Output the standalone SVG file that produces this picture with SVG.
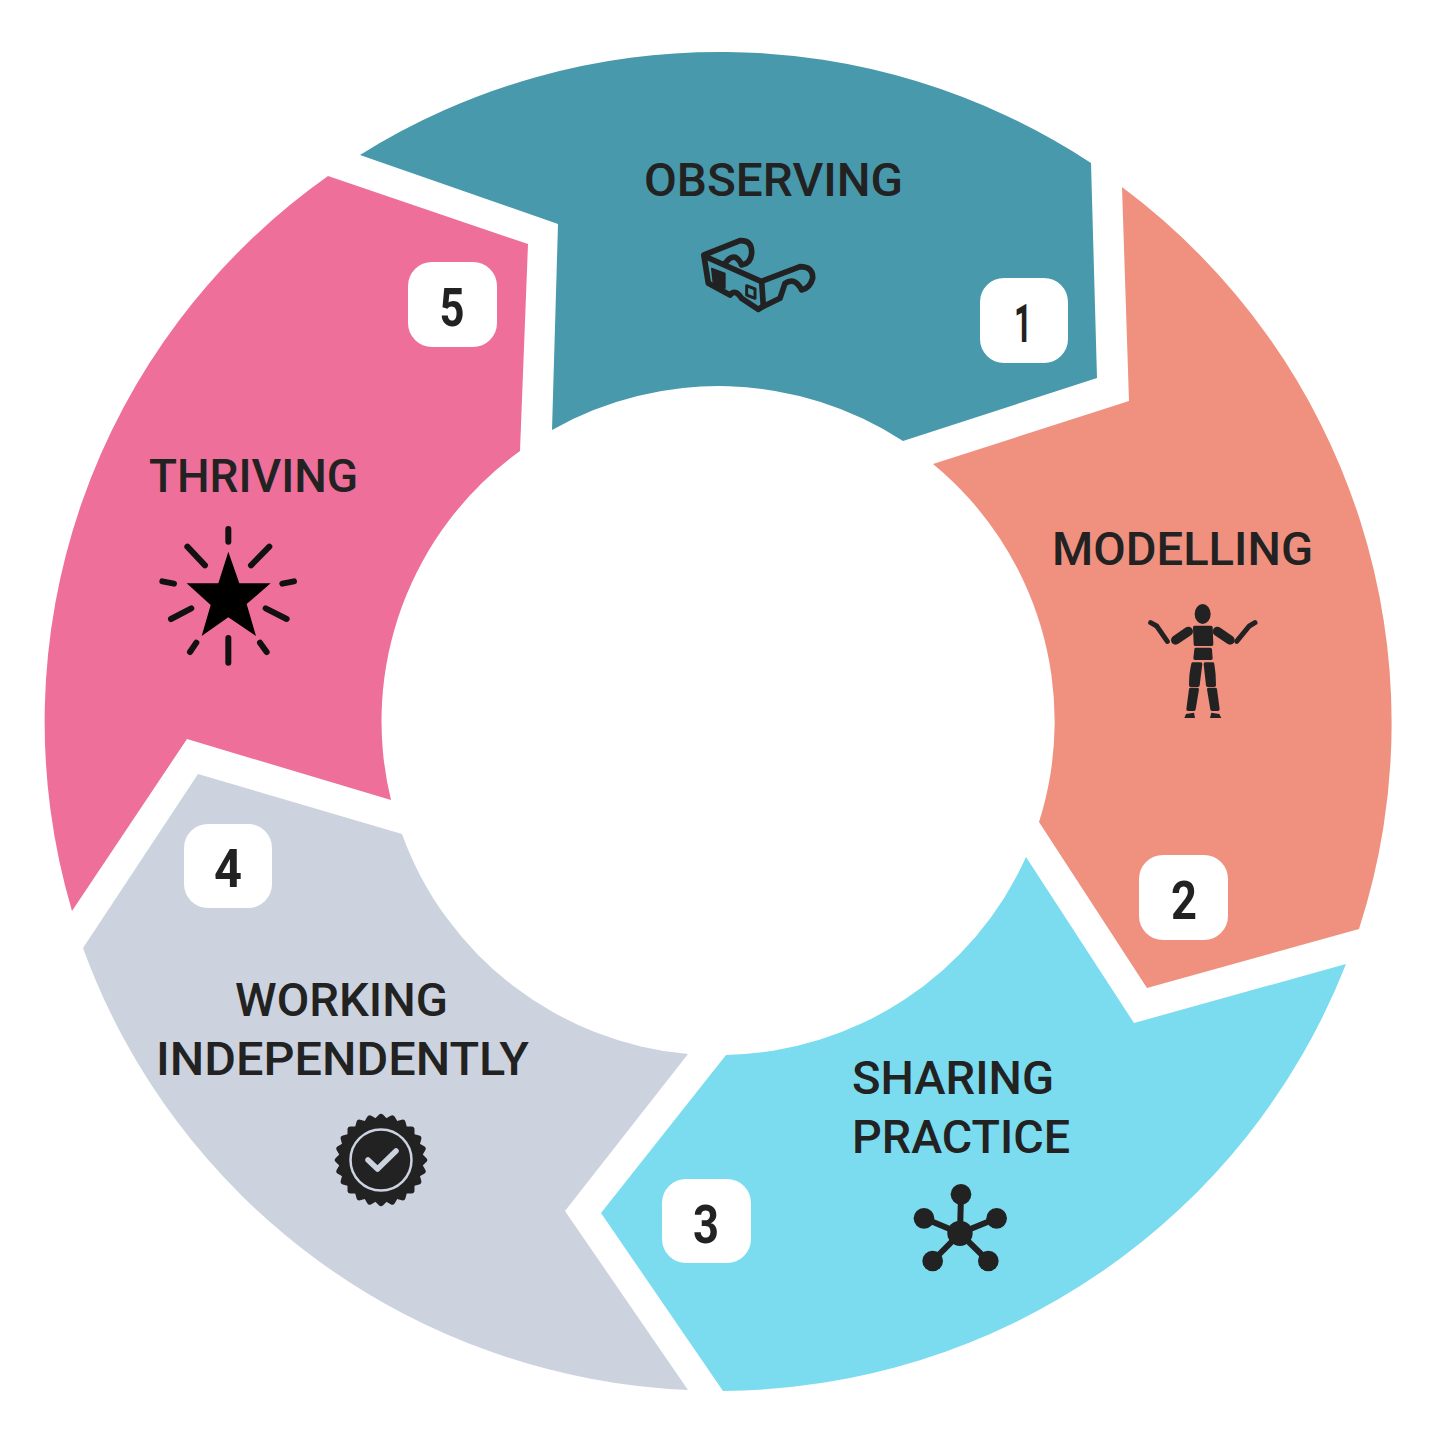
<svg xmlns="http://www.w3.org/2000/svg" width="1433" height="1439" viewBox="0 0 1433 1439">
<style>
.lb{font-family:"Roboto","Liberation Sans",sans-serif;font-weight:500;font-size:47px;fill:#222}
.n{font-family:"Roboto","Liberation Sans",sans-serif;font-weight:700;font-size:54px;fill:#222;text-anchor:middle}
.bd{fill:#fff}
.ic{fill:#222;stroke:none}
.fat{fill:#222;stroke:#222;stroke-width:10;stroke-linejoin:round}
</style>
<rect width="1433" height="1439" fill="#fff"/>
<g id="observing">
<path fill="#4899AC" d="M360,155 A674,670 0 0 1 1091,163 L1097,378 L903,441 A336,334 0 0 0 552,430 L558,224 Z"/>
<text class="lb" x="644" y="196" textLength="259" lengthAdjust="spacingAndGlyphs">OBSERVING</text>
<rect class="bd" x="980" y="278" width="88" height="85" rx="24"/>
<text class="n" x="1023" y="342" textLength="18" lengthAdjust="spacingAndGlyphs">1</text>
<g transform="translate(680,220) scale(.3333)" fill="none" stroke="#222" stroke-width="17" stroke-linejoin="round" stroke-linecap="round">
<path d="M72,108 L245,185 L250,258 L235,268 L185,235 Q165,205 150,225 L85,190 Z"/>
<path d="M72,105 L180,62 Q215,60 215,95 Q215,130 185,135 Q165,90 135,130"/>
<path d="M250,182 L360,140 Q400,140 398,175 Q390,205 365,210 Q345,170 315,190 L300,235 L245,262"/>
<path fill="#222" stroke-width="4" d="M95,145 L135,160 L135,205 L100,190 Z"/>
<path stroke-width="9" d="M200,197 L225,207 L225,235 L200,225 Z"/>
</g>
</g>
<g id="modelling">
<path fill="#F09180" d="M1122,187 A674,670 0 0 1 1359,929 L1147,988 L1039,822 A336,334 0 0 0 933,464 L1129,401 Z"/>
<text class="lb" x="1052" y="565" textLength="261" lengthAdjust="spacingAndGlyphs">MODELLING</text>
<rect class="bd" x="1139" y="855" width="89" height="85" rx="24"/>
<text class="n" x="1184" y="919" textLength="26" lengthAdjust="spacingAndGlyphs">2</text>
<g transform="translate(1130,590) scale(.3333)">
<ellipse class="ic" cx="218" cy="72" rx="24" ry="30"/>
<path class="fat" d="M194,112 L243,112 L245,163 L196,163 Z"/>
<path class="fat" d="M198,178 L241,178 L243,205 L195,205 Z"/>
<path class="fat" d="M189,222 L212,222 L204,286 L182,286 Q182,250 189,222 Z"/>
<path class="fat" d="M226,222 L248,222 Q253,250 253,286 L233,286 Z"/>
<path class="fat" d="M182,298 L202,298 L192,358 L174,358 Z"/>
<path class="fat" d="M236,298 L256,298 L264,358 L246,358 Z"/>
<path class="ic" d="M168,372 L192,368 L195,384 L163,384 Z"/>
<path class="ic" d="M244,368 L268,372 L274,384 L240,384 Z"/>
<g fill="none" stroke="#222" stroke-linecap="round">
<path stroke-width="28" d="M137,150 L175,124"/>
<path stroke-width="28" d="M262,124 L300,150"/>
<path stroke-width="15" d="M112,154 L80,108 L62,98"/>
<path stroke-width="15" d="M320,154 L358,108 L375,98"/>
</g>
</g>
</g>
<g id="sharing">
<path fill="#7ADCEE" d="M1346,964 A674,670 0 0 1 723,1391 L601,1213 L726,1055 A336,334 0 0 0 1026,857 L1134,1023 Z"/>
<text class="lb" x="852" y="1094" textLength="202" lengthAdjust="spacingAndGlyphs">SHARING</text>
<text class="lb" x="852" y="1153" textLength="218" lengthAdjust="spacingAndGlyphs">PRACTICE</text>
<rect class="bd" x="662" y="1179" width="89" height="84" rx="24"/>
<text class="n" x="706" y="1243" textLength="26" lengthAdjust="spacingAndGlyphs">3</text>
<g transform="translate(900,1170) scale(.3333)">
<g stroke="#222" stroke-width="18"><path d="M180,190 L183,73 M180,190 L72,145 M180,190 L290,145 M180,190 L98,273 M180,190 L265,273"/></g>
<circle class="ic" cx="180" cy="190" r="38"/>
<circle class="ic" cx="183" cy="73" r="31"/>
<circle class="ic" cx="72" cy="145" r="31"/>
<circle class="ic" cx="290" cy="145" r="31"/>
<circle class="ic" cx="98" cy="273" r="31"/>
<circle class="ic" cx="265" cy="273" r="31"/>
</g>
</g>
<g id="working">
<path fill="#CCD3DF" d="M688,1390 A674,670 0 0 1 83,948 L198,774 L402,834 A336,334 0 0 0 688,1054 L565,1211 Z"/>
<text class="lb" x="235" y="1016" textLength="213" lengthAdjust="spacingAndGlyphs">WORKING</text>
<text class="lb" x="156" y="1075" textLength="373" lengthAdjust="spacingAndGlyphs">INDEPENDENTLY</text>
<rect class="bd" x="184" y="824" width="88" height="84" rx="24"/>
<text class="n" x="228" y="887" textLength="28" lengthAdjust="spacingAndGlyphs">4</text>
<g transform="translate(381,1160)">
<rect class="ic" x="-33.500" y="-33.500" width="67" height="67" rx="3"/>
<rect class="ic" x="-33.500" y="-33.500" width="67" height="67" rx="3" transform="rotate(15)"/>
<rect class="ic" x="-33.500" y="-33.500" width="67" height="67" rx="3" transform="rotate(30)"/>
<rect class="ic" x="-33.500" y="-33.500" width="67" height="67" rx="3" transform="rotate(45)"/>
<rect class="ic" x="-33.500" y="-33.500" width="67" height="67" rx="3" transform="rotate(60)"/>
<rect class="ic" x="-33.500" y="-33.500" width="67" height="67" rx="3" transform="rotate(75)"/>
<circle r="30.500" fill="none" stroke="#CCD3DF" stroke-width="2.500"/>
<path d="M-13,0 L-3.500,9 L15,-9" fill="none" stroke="#CCD3DF" stroke-width="5.500" stroke-linecap="round" stroke-linejoin="round"/>
</g>
</g>
<g id="thriving">
<path fill="#EE6F99" d="M72,911 A674,670 0 0 1 328,176 L528,244 L520,451 A336,334 0 0 0 391,800 L187,739 Z"/>
<text class="lb" x="149" y="492" textLength="209" lengthAdjust="spacingAndGlyphs">THRIVING</text>
<rect class="bd" x="408" y="262" width="89" height="85" rx="24"/>
<text class="n" x="452" y="326" textLength="25" lengthAdjust="spacingAndGlyphs">5</text>
<g transform="translate(150,520) scale(.3333)">
<polygon fill="#000" points="235,95 268,190 362,190 290,252 318,348 235,292 155,348 182,255 110,190 205,190"/>
<path fill="none" stroke="#111" stroke-width="18" stroke-linecap="round" d="M235,27 L235,65 M112,80 L165,136 M358,80 L303,136 M37,184 L72,191 M432,184 L397,191 M63,297 L124,265 M410,297 L347,265 M120,396 L139,368 M350,396 L330,368 M235,354 L235,428"/>
</g>
</g>
</svg>
